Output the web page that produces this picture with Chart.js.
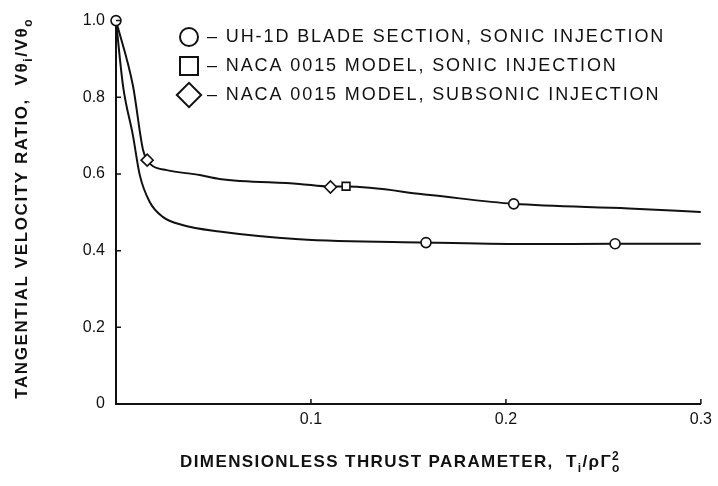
<!DOCTYPE html>
<html>
<head>
<meta charset="utf-8">
<title>Tangential velocity ratio</title>
<script src="https://cdn.jsdelivr.net/npm/chart.js@4.4.1/dist/chart.umd.min.js"></script>
<style>
  html, body { margin: 0; padding: 0; background: #fff; }
  #wrap { width: 718px; height: 486px; }
</style>
</head>
<body>
<div id="wrap"><canvas id="chart" width="718" height="486"></canvas></div>
<script>
// Faired curves
const upperCurveX = [0, 0.0087, 0.0138, 0.016, 0.019, 0.026, 0.043, 0.053, 0.094, 0.110, 0.118, 0.161, 0.204, 0.263, 0.300];
const upperCurveY = [1.0, 0.83, 0.664, 0.636, 0.620, 0.610, 0.597, 0.587, 0.574, 0.567, 0.567, 0.545, 0.522, 0.510, 0.501];
const lowerCurveX = [0, 0.0036, 0.0087, 0.0122, 0.0173, 0.024, 0.034, 0.053, 0.094, 0.159, 0.210, 0.256, 0.300];
const lowerCurveY = [1.0, 0.83, 0.70, 0.597, 0.527, 0.488, 0.467, 0.450, 0.430, 0.421, 0.417, 0.418, 0.418];

// Test points
const uh1dX = [0, 0.159, 0.204, 0.256];
const uh1dY = [1.0, 0.421, 0.522, 0.418];
const nacaSonicX = [0.118];
const nacaSonicY = [0.568];
const nacaSubsonicX = [0.016, 0.110];
const nacaSubsonicY = [0.636, 0.566];

const legendLabels = [
  '\u2013 UH-1D BLADE SECTION, SONIC INJECTION',
  '\u2013 NACA 0015 MODEL, SONIC INJECTION',
  '\u2013 NACA 0015 MODEL, SUBSONIC INJECTION'
];
const legendShapes = ['circle', 'rect', 'rectRot'];

const xTickLabels = ['0', '0.1', '0.2', '0.3'];
const yTickLabels = ['0', '0.2', '0.4', '0.6', '0.8', '1.0'];

const ink = '#111';
const fontFamily = '"Liberation Sans", Arial, sans-serif';

function toPoints(xs, ys) {
  return xs.map((x, i) => ({ x: x, y: ys[i] }));
}

// Outline marker used by the legend
function drawShape(ctx, shape, cx, cy, r) {
  ctx.beginPath();
  if (shape === 'circle') {
    ctx.arc(cx, cy, r, 0, Math.PI * 2);
  } else if (shape === 'rect') {
    ctx.rect(cx - r, cy - r, r * 2, r * 2);
  } else {
    const w = r * 1.35;
    ctx.moveTo(cx - w, cy);
    ctx.lineTo(cx, cy - w);
    ctx.lineTo(cx + w, cy);
    ctx.lineTo(cx, cy + w);
    ctx.closePath();
  }
  ctx.stroke();
}

// Text with subscripts / superscripts, centred on the current origin
function drawRich(ctx, parts, size, spacing) {
  const base = `bold ${size}px ${fontFamily}`;
  const small = `bold ${Math.round(size * 0.68)}px ${fontFamily}`;
  ctx.letterSpacing = spacing + 'px';
  let total = 0;
  const widths = parts.map(p => {
    ctx.font = p.pos ? small : base;
    const w = ctx.measureText(p.text).width;
    if (!p.keep) total += w;
    return w;
  });
  let x = -total / 2;
  ctx.textBaseline = 'middle';
  ctx.textAlign = 'left';
  parts.forEach((p, i) => {
    ctx.font = p.pos ? small : base;
    let dy = 0;
    if (p.pos === 'sub') dy = size * 0.38;
    if (p.pos === 'sup') dy = -size * 0.3;
    ctx.fillText(p.text, x, dy);
    if (!p.keep) x += widths[i];
  });
}

const decorations = {
  id: 'decorations',
  afterDraw(chart) {
    const { ctx, chartArea: a, scales: { x, y } } = chart;
    ctx.save();
    ctx.strokeStyle = ink;
    ctx.fillStyle = ink;

    // short inward tick marks
    ctx.lineWidth = 1.5;
    ctx.beginPath();
    x.ticks.forEach(t => {
      const px = x.getPixelForValue(t.value);
      ctx.moveTo(px, a.bottom);
      ctx.lineTo(px, a.bottom - 5);
    });
    y.ticks.forEach(t => {
      const py = y.getPixelForValue(t.value);
      ctx.moveTo(a.left, py);
      ctx.lineTo(a.left + 5, py);
    });
    ctx.stroke();

    // legend block
    ctx.lineWidth = 2;
    legendLabels.forEach((label, i) => {
      const rowY = 37 + i * 29;
      drawShape(ctx, legendShapes[i], 189, rowY, 9);
      ctx.font = `18px ${fontFamily}`;
      ctx.letterSpacing = '1.9px';
      ctx.textBaseline = 'middle';
      ctx.textAlign = 'left';
      ctx.fillText(label, 207, rowY);
    });

    // axis titles
    ctx.save();
    ctx.translate(22, (a.top + a.bottom) / 2 - 4);
    ctx.rotate(-Math.PI / 2);
    drawRich(ctx, [
      { text: 'TANGENTIAL VELOCITY RATIO,  V\u03B8' },
      { text: 'i', pos: 'sub' },
      { text: '/V\u03B8' },
      { text: 'o', pos: 'sub' }
    ], 17, 1.6);
    ctx.restore();

    ctx.save();
    ctx.translate((a.left + a.right) / 2 - 8, 462);
    drawRich(ctx, [
      { text: 'DIMENSIONLESS THRUST PARAMETER,  T' },
      { text: 'i', pos: 'sub' },
      { text: '/\u03C1\u0393' },
      { text: '2', pos: 'sup', keep: true },
      { text: 'o', pos: 'sub' }
    ], 17, 1.4);
    ctx.restore();

    ctx.restore();
  }
};

const markerStyle = {
  showLine: false,
  backgroundColor: '#fff',
  borderColor: ink,
  borderWidth: 1.6,
  clip: false,
  order: 0
};

const curveStyle = {
  showLine: true,
  pointRadius: 0,
  borderColor: ink,
  borderWidth: 2,
  cubicInterpolationMode: 'monotone',
  order: 1
};

new Chart(document.getElementById('chart'), {
  type: 'scatter',
  data: {
    datasets: [
      { ...markerStyle, label: 'UH-1D', data: toPoints(uh1dX, uh1dY), pointStyle: 'circle', pointRadius: 5 },
      { ...markerStyle, label: 'NACA sonic', data: toPoints(nacaSonicX, nacaSonicY), pointStyle: 'rect', pointRadius: 5.5 },
      { ...markerStyle, label: 'NACA subsonic', data: toPoints(nacaSubsonicX, nacaSubsonicY), pointStyle: 'rectRot', pointRadius: 6 },
      { ...curveStyle, label: 'upper', data: toPoints(upperCurveX, upperCurveY) },
      { ...curveStyle, label: 'lower', data: toPoints(lowerCurveX, lowerCurveY) }
    ]
  },
  options: {
    responsive: false,
    animation: false,
    layout: { padding: { top: 17, right: 13, left: 0, bottom: 0 } },
    plugins: {
      legend: { display: false },
      tooltip: { enabled: false }
    },
    scales: {
      x: {
        type: 'linear',
        min: 0,
        max: 0.3,
        afterFit: scale => { scale.height = 82; },
        ticks: {
          stepSize: 0.1,
          color: ink,
          padding: 6,
          font: { size: 16, family: fontFamily },
          // the origin label is shared with the y axis
          callback: (value, i) => (i === 0 ? '' : xTickLabels[i])
        },
        grid: { drawOnChartArea: false, drawTicks: false },
        border: { display: true, color: ink, width: 2 }
      },
      y: {
        type: 'linear',
        min: 0,
        max: 1,
        afterFit: scale => { scale.width = 116; },
        ticks: {
          stepSize: 0.2,
          color: ink,
          padding: 11,
          font: { size: 16, family: fontFamily },
          callback: (value, i) => yTickLabels[i]
        },
        grid: { drawOnChartArea: false, drawTicks: false },
        border: { display: true, color: ink, width: 2 }
      }
    }
  },
  plugins: [decorations]
});
</script>
</body>
</html>
